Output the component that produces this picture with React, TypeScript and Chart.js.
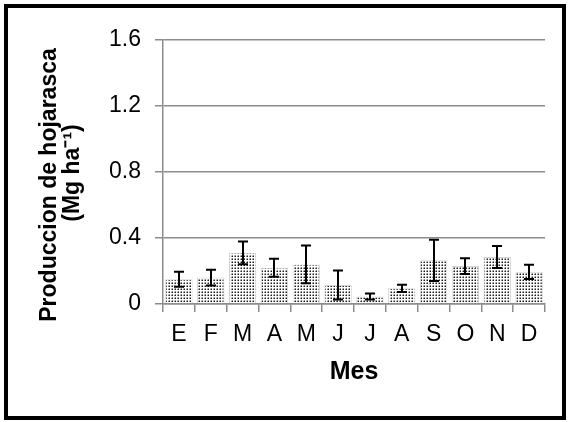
import { useEffect, useRef } from "react";
import { Chart, registerables } from "chart.js";

Chart.register(...registerables);

const months = ["E", "F", "M", "A", "M", "J", "J", "A", "S", "O", "N", "D"];
const litterfall = [0.15, 0.16, 0.31, 0.22, 0.24, 0.115, 0.045, 0.095, 0.265, 0.23, 0.285, 0.195];
const errors = [0.045, 0.048, 0.069, 0.055, 0.114, 0.088, 0.018, 0.022, 0.125, 0.048, 0.067, 0.043];
const yTickValues = [0, 0.4, 0.8, 1.2, 1.6];
const yTitle = ["Produccion de hojarasca", "(Mg ha\u207B\u00B9)"];
const xTitle = "Mes";

const FONT = "'Liberation Sans', Arial, sans-serif";

function makePattern(): CanvasPattern | string {
  const c = document.createElement("canvas");
  c.width = 3;
  c.height = 3;
  const g = c.getContext("2d");
  if (!g) return "#999";
  g.fillStyle = "#ffffff";
  g.fillRect(0, 0, 3, 3);
  g.fillStyle = "#d0d0d0";
  g.fillRect(0, 0, 1, 1);
  g.fillStyle = "#8a8a8a";
  g.fillRect(0, 1, 1, 1);
  g.fillRect(1, 0, 1, 1);
  g.fillStyle = "#1e1e1e";
  g.fillRect(1, 1, 1, 1);
  const p = g.createPattern(c, "repeat");
  return p || "#999";
}

const errorBarPlugin = {
  id: "errorBars",
  afterDatasetsDraw(chart: any) {
    const ctx = chart.ctx;
    const x = chart.scales.x;
    const y = chart.scales.y;
    ctx.save();
    ctx.strokeStyle = "#000";
    ctx.lineWidth = 2;
    litterfall.forEach((v, i) => {
      const px = Math.round(x.getPixelForValue(i));
      const top = y.getPixelForValue(v + errors[i]);
      const bot = y.getPixelForValue(Math.max(0, v - errors[i]));
      ctx.beginPath();
      ctx.moveTo(px, top);
      ctx.lineTo(px, bot);
      ctx.moveTo(px - 5, top);
      ctx.lineTo(px + 5, top);
      ctx.moveTo(px - 5, bot);
      ctx.lineTo(px + 5, bot);
      ctx.stroke();
    });
    ctx.restore();
  },
};

const yTitlePlugin = {
  id: "yTitle",
  afterDraw(chart: any) {
    const ctx = chart.ctx;
    const area = chart.chartArea;
    const mid = (area.top + area.bottom) / 2;
    ctx.save();
    ctx.fillStyle = "#000";
    ctx.font = `bold 23px ${FONT}`;
    ctx.textAlign = "center";
    ctx.textBaseline = "alphabetic";
    ctx.translate(56, mid + 13);
    ctx.rotate(-Math.PI / 2);
    ctx.fillText(yTitle[0], 0, 0);
    ctx.restore();
    ctx.save();
    ctx.fillStyle = "#000";
    ctx.font = `bold 23px ${FONT}`;
    ctx.textAlign = "center";
    ctx.textBaseline = "alphabetic";
    ctx.translate(79, mid + 1);
    ctx.rotate(-Math.PI / 2);
    ctx.fillText(yTitle[1], 0, 0);
    ctx.restore();
  },
};

const framePlugin = {
  id: "frame",
  beforeDraw(chart: any) {
    const ctx = chart.ctx;
    ctx.save();
    ctx.fillStyle = "#fff";
    ctx.fillRect(0, 0, chart.width, chart.height);
    ctx.restore();
  },
  afterDraw(chart: any) {
    const ctx = chart.ctx;
    ctx.save();
    ctx.strokeStyle = "#000";
    ctx.lineWidth = 4;
    ctx.strokeRect(6, 6, chart.width - 10, chart.height - 10);
    ctx.restore();
  },
};

export default function App() {
  const ref = useRef<HTMLCanvasElement>(null);
  useEffect(() => {
    if (!ref.current) return;
    const pattern = makePattern();
    const chart = new Chart(ref.current, {
      type: "bar",
      data: {
        labels: months,
        datasets: [
          {
            data: litterfall,
            backgroundColor: pattern as any,
            borderColor: "#d4d4d4",
            borderWidth: 1,
            barPercentage: 0.86,
            categoryPercentage: 1,
          },
        ],
      },
      options: {
        animation: false,
        responsive: false,
        layout: { padding: { left: 30, right: 23, top: 40, bottom: 20 } },
        plugins: { legend: { display: false }, tooltip: { enabled: false } },
        scales: {
          x: {
            afterFit(scale: any) {
              scale.height = 98;
            },
            grid: {
              offset: true,
              drawOnChartArea: false,
              drawTicks: true,
              tickLength: 8,
              color: "#8c8c8c",
              lineWidth: 1.5,
            },
            border: { color: "#8c8c8c", width: 1.5 },
            ticks: {
              color: "#000",
              font: { family: FONT, size: 23 },
              padding: 9,
            },
            title: {
              display: true,
              text: xTitle,
              color: "#000",
              font: { family: FONT, size: 25, weight: "bold" },
              padding: { top: 0, bottom: 15 },
            },
          },
          y: {
            min: 0,
            max: 1.6,
            afterFit(scale: any) {
              scale.width = 133;
            },
            afterBuildTicks(scale: any) {
              scale.ticks = yTickValues.map((v) => ({ value: v }));
            },
            grid: {
              color: "#8c8c8c",
              lineWidth: 1.5,
              tickLength: 8,
            },
            border: { color: "#8c8c8c", width: 1.5 },
            ticks: {
              color: "#000",
              font: { family: FONT, size: 23 },
              padding: 14,
              callback: (v: any) => String(Number(v)),
            },
          },
        },
      },
      plugins: [framePlugin, errorBarPlugin, yTitlePlugin],
    });
    return () => chart.destroy();
  }, []);
  return (
    <div style={{ position: "fixed", left: 0, top: 0, width: 568, height: 422 }}>
      <canvas ref={ref} width={568} height={422} style={{ width: 568, height: 422, display: "block" }} />
    </div>
  );
}
